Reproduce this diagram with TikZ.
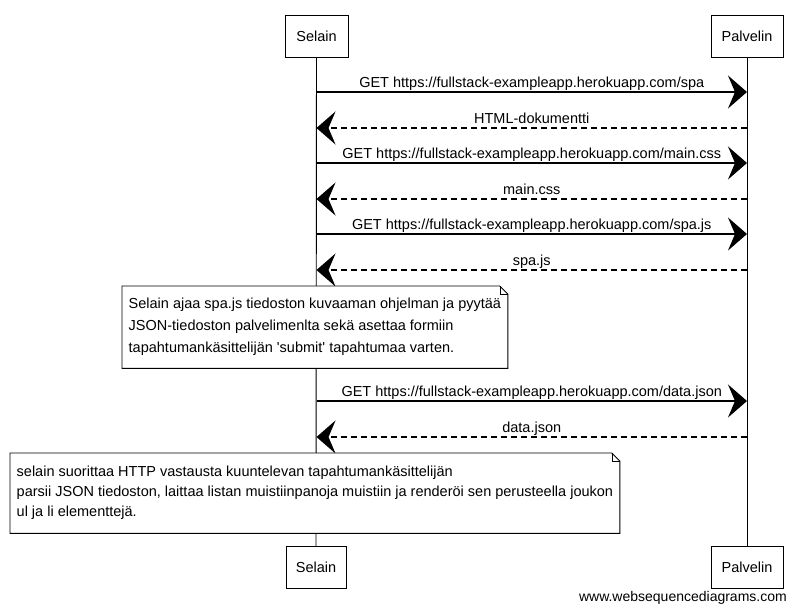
\documentclass[tikz,border=0pt]{standalone}
\usepackage{fontspec}
\setmainfont{Liberation Sans}
\usetikzlibrary{arrows.meta}

\tikzset{
  actor/.style={draw, fill=white, minimum height=42pt, inner xsep=7pt, font=\fontsize{14.5}{17}\selectfont},
  msg/.style={line width=1.3pt, -{Stealth[length=19pt,width=33pt,inset=7pt]}},
  reply/.style={msg, dash pattern=on 6pt off 4pt},
  lbl/.style={above, inner sep=1.5pt, text height=0.75em, text depth=0.22em, font=\fontsize{14.5}{17}\selectfont},
  note/.style={fill=white, align=left, inner xsep=6.5pt, anchor=north west, font=\fontsize{14.5}{22}\selectfont}
}

\begin{document}
\begin{tikzpicture}[x=1pt,y=-1pt]
    \useasboundingbox (0,0) rectangle (797,613);
    \fill[white] (0,0) rectangle (797,613);

    % osapuolet
    \node[actor, minimum width=63pt] (selTop) at (316.5,36) {Selain};
    \node[actor, minimum width=72pt] (palTop) at (747,36) {Palvelin};
    \node[actor, minimum width=60pt] (selBot) at (316,567) {Selain};
    \node[actor, minimum width=72pt] (palBot) at (747,567) {Palvelin};
    \draw[line width=0.9pt] (selTop) -- (selBot);
    \draw[line width=0.9pt] (palTop) -- (palBot);

    \foreach \y [count=\i] in {92,128,163,199,234,270,401,437} {
        \coordinate (s\i) at (selTop |- 0,\y);
        \coordinate (p\i) at (palTop |- 0,\y);
    }

    \draw[msg] (s1) -- node[lbl] {GET https://fullstack-exampleapp.herokuapp.com/spa} (p1);
    \draw[reply] (p2) -- node[lbl] {HTML-dokumentti} (s2);
    \draw[msg] (s3) -- node[lbl] {GET https://fullstack-exampleapp.herokuapp.com/main.css} (p3);
    \draw[reply] (p4) -- node[lbl] {main.css} (s4);
    \draw[msg] (s5) -- node[lbl] {GET https://fullstack-exampleapp.herokuapp.com/spa.js} (p5);
    \draw[reply] (p6) -- node[lbl] {spa.js} (s6);

    % muistiinpanot
    \node[note, minimum height=82pt] (note1) at (122,286) {Selain ajaa spa.js tiedoston kuvaaman ohjelman ja pyytää\\
        JSON-tiedoston palvelimenlta sekä asettaa formiin\\
        tapahtumankäsittelijän \textquotesingle submit\textquotesingle{} tapahtumaa varten.};

    \draw[msg] (s7) -- node[lbl] {GET https://fullstack-exampleapp.herokuapp.com/data.json} (p7);
    \draw[reply] (p8) -- node[lbl] {data.json} (s8);

    \node[note, minimum height=80pt, font=\fontsize{14.5}{20}\selectfont] (note2) at (10,453) {selain suorittaa HTTP vastausta kuuntelevan tapahtumankäsittelijän\\
        parsii JSON tiedoston, laittaa listan muistiinpanoja muistiin ja renderöi sen perusteella joukon\\
        ul ja li elementtejä.};

    \foreach \n in {note1,note2} {
        \draw[line width=0.9pt] (\n.north west) -- ([xshift=-8pt]\n.north east) -- ([yshift=-8pt]\n.north east)
            -- (\n.south east) -- (\n.south west) -- cycle;
        \draw[line width=0.6pt] ([xshift=-8pt]\n.north east) -- ([xshift=-8pt,yshift=-8pt]\n.north east)
            -- ([yshift=-8pt]\n.north east);
    }

    \node[anchor=east, inner sep=0pt, font=\fontsize{14}{16}\selectfont] (site) at (787,598) {www.websequencediagrams.com};
\end{tikzpicture}
\end{document}
